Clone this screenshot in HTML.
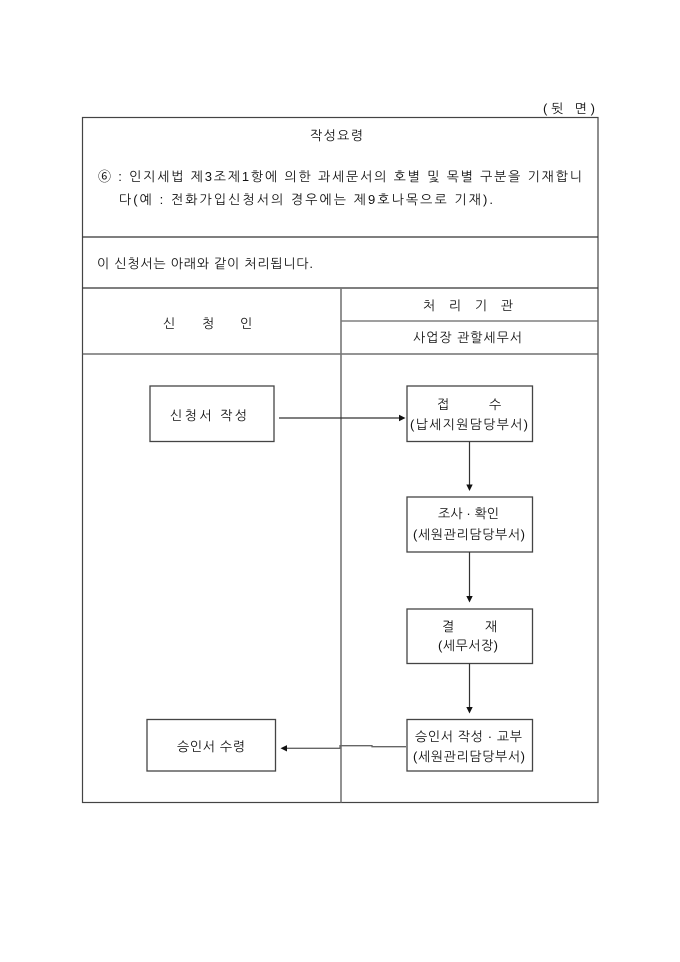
<!DOCTYPE html>
<html>
<head>
<meta charset="utf-8">
<style>
  html, body { margin: 0; padding: 0; background: #ffffff; }
  body { width: 680px; height: 962px; overflow: hidden; }
  svg { display: block; }
  text { font-family: "Liberation Sans", "NanumGothic", "Noto Sans CJK KR", sans-serif; font-size: 13px; fill: #111; }
</style>
</head>
<body>
<svg width="680" height="962" viewBox="0 0 680 962" xmlns="http://www.w3.org/2000/svg">
  <rect x="0" y="0" width="680" height="962" fill="#ffffff"/>

  <!-- header label -->
  <text x="543" y="113" textLength="52" lengthAdjust="spacing">(뒷    면)</text>

  <!-- outer table -->
  <rect x="82.5" y="117.5" width="515.5" height="685" fill="none" stroke="#444" stroke-width="1.2"/>
  <line x1="82.5" y1="237" x2="598" y2="237" stroke="#333" stroke-width="1.2"/>
  <line x1="82.5" y1="288" x2="598" y2="288" stroke="#333" stroke-width="1.2"/>
  <line x1="82.5" y1="354" x2="598" y2="354" stroke="#555" stroke-width="1.2"/>
  <line x1="341" y1="321" x2="598" y2="321" stroke="#666" stroke-width="1.2"/>
  <line x1="341" y1="288" x2="341" y2="802.5" stroke="#777" stroke-width="1.6"/>

  <!-- instructions -->
  <text x="310" y="140" textLength="53" lengthAdjust="spacing">작성요령</text>
  <text x="98" y="181" textLength="484" lengthAdjust="spacing">⑥ : 인지세법  제3조제1항에  의한  과세문서의  호별  및  목별  구분을  기재합니</text>
  <text x="119" y="204" textLength="374" lengthAdjust="spacing">다(예 : 전화가입신청서의 경우에는 제9호나목으로 기재).</text>

  <text x="97" y="268" textLength="216" lengthAdjust="spacing">이 신청서는 아래와 같이 처리됩니다.</text>

  <!-- column headers -->
  <text x="163" y="328">신</text>
  <text x="202" y="328">청</text>
  <text x="240" y="328">인</text>
  <text x="423" y="310" textLength="90" lengthAdjust="spacing">처 리 기 관</text>
  <text x="413" y="342" textLength="109" lengthAdjust="spacing">사업장 관할세무서</text>

  <!-- boxes -->
  <g fill="none" stroke="#444" stroke-width="1.3">
    <rect x="150" y="386" width="124" height="55.5"/>
    <rect x="407" y="386" width="125.5" height="55.5"/>
    <rect x="407" y="497" width="125.5" height="55"/>
    <rect x="407" y="609" width="125.5" height="54.5"/>
    <rect x="407" y="719.5" width="125.5" height="51.5"/>
    <rect x="147" y="719.5" width="128.5" height="51.5"/>
  </g>

  <!-- box texts -->
  <text x="170" y="420" textLength="77" lengthAdjust="spacing">신청서 작성</text>

  <text x="437" y="409">접</text>
  <text x="489" y="409">수</text>
  <text x="410" y="429" textLength="118" lengthAdjust="spacing">(납세지원담당부서)</text>

  <text x="438" y="518" textLength="61" lengthAdjust="spacing">조사 · 확인</text>
  <text x="413" y="539" textLength="112" lengthAdjust="spacing">(세원관리담당부서)</text>

  <text x="442" y="631">결</text>
  <text x="485" y="631">재</text>
  <text x="438" y="650" textLength="60" lengthAdjust="spacing">(세무서장)</text>

  <text x="415" y="741" textLength="107" lengthAdjust="spacing">승인서 작성 · 교부</text>
  <text x="413" y="761" textLength="112" lengthAdjust="spacing">(세원관리담당부서)</text>

  <text x="177" y="751" textLength="68" lengthAdjust="spacing">승인서 수령</text>

  <!-- connectors -->
  <g stroke="#333" stroke-width="1.2" fill="none">
    <line x1="279" y1="418" x2="400" y2="418"/>
    <line x1="469.5" y1="441.5" x2="469.5" y2="485"/>
    <line x1="469.5" y1="552" x2="469.5" y2="597"/>
    <line x1="469.5" y1="663.5" x2="469.5" y2="708"/>
  </g>
  <polyline points="406,746.7 372,746.7 372,745.7 340,745.7 340,748.3 286,748.3" fill="none" stroke="#666" stroke-width="1.3"/>

  <g fill="#111">
    <polygon points="405.5,418 399,414.8 399,421.2"/>
    <polygon points="469.5,491 466.3,484.5 472.7,484.5"/>
    <polygon points="469.5,602.5 466.3,596 472.7,596"/>
    <polygon points="469.5,713.5 466.3,707 472.7,707"/>
    <polygon points="280.5,748.3 287,745.1 287,751.5"/>
  </g>
</svg>
</body>
</html>
